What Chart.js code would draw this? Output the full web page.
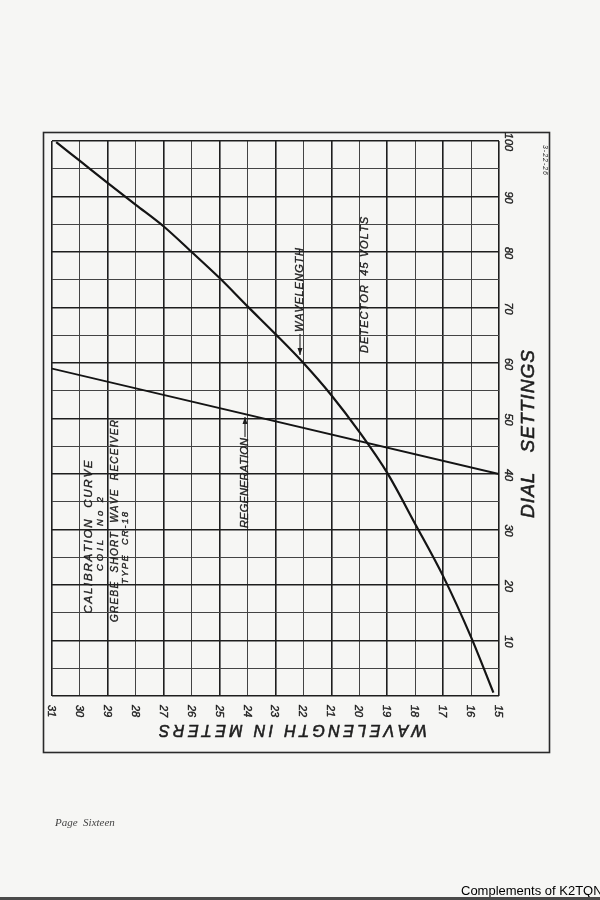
<!DOCTYPE html>
<html>
<head>
<meta charset="utf-8">
<script src="https://cdn.jsdelivr.net/npm/chart.js@4.4.1/dist/chart.umd.min.js"></script>
<style>
  html, body { margin: 0; padding: 0; background: #f6f6f4; }
  #wrap { width: 600px; height: 900px; position: relative; }
</style>
</head>
<body>
<div id="wrap"><canvas id="c"></canvas></div>
<script>
// ---- data ----
const wavelengthMeters = [30.85, 30, 29, 28, 27, 26, 25, 24, 23, 22, 21, 20, 19, 18, 17, 16, 15.2];
const wavelengthDial   = [99.8, 96.4, 92.4, 88.5, 84.6, 80.0, 75.3, 70.2, 65.2, 60.0, 54.2, 47.6, 40.2, 31.0, 21.6, 10.6, 0.6];
const regenerationMeters = [31, 15];
const regenerationDial   = [59, 40];
const xTickLabels = [31, 30, 29, 28, 27, 26, 25, 24, 23, 22, 21, 20, 19, 18, 17, 16, 15];
const yTickLabels = [10, 20, 30, 40, 50, 60, 70, 80, 90, 100];

const INK = '#1e1e1e';
const FAM = '"Liberation Sans", "DejaVu Sans", sans-serif';

function spacedText(ctx, text, x, y, angle, font, targetLen, stroke) {
  ctx.save();
  ctx.translate(x, y);
  ctx.rotate(angle);
  ctx.font = font;
  ctx.textAlign = 'left';
  ctx.textBaseline = 'middle';
  ctx.fillStyle = INK;
  ctx.strokeStyle = INK;
  ctx.lineWidth = stroke || 0;
  const chars = [...text];
  const widths = chars.map(c => ctx.measureText(c).width);
  const total = widths.reduce((a, b) => a + b, 0);
  const gap = (targetLen && chars.length > 1) ? (targetLen - total) / (chars.length - 1) : 0;
  const full = total + gap * (chars.length - 1);
  let cx = -full / 2;
  chars.forEach((c, i) => {
    ctx.fillText(c, cx, 0);
    if (stroke) ctx.strokeText(c, cx, 0);
    cx += widths[i] + gap;
  });
  ctx.restore();
}

function arrow(ctx, x, y0, y1) {
  ctx.save();
  ctx.strokeStyle = INK;
  ctx.fillStyle = INK;
  ctx.lineWidth = 1.1;
  ctx.beginPath();
  ctx.moveTo(x, y0);
  ctx.lineTo(x, y1);
  ctx.stroke();
  const d = y1 > y0 ? 1 : -1;
  ctx.beginPath();
  ctx.moveTo(x, y1);
  ctx.lineTo(x - 2.5, y1 - d * 7);
  ctx.lineTo(x + 2.5, y1 - d * 7);
  ctx.closePath();
  ctx.fill();
  ctx.restore();
}

const decor = {
  id: 'decor',
  beforeDraw(chart) {
    const ctx = chart.ctx;
    ctx.save();
    ctx.fillStyle = '#f6f6f4';
    ctx.fillRect(0, 0, chart.width, chart.height);
    ctx.restore();
  },
  afterDraw(chart) {
    const ctx = chart.ctx;
    const xs = chart.scales.x, ys = chart.scales.y;
    ctx.save();
    ctx.strokeStyle = '#2a2a2a';
    ctx.lineWidth = 1.6;
    ctx.strokeRect(43.5, 132.5, 506, 620);
    xTickLabels.forEach(v => {
      spacedText(ctx, String(v), xs.getPixelForValue(v) - 1, 711, Math.PI / 2,
        'italic 11px ' + FAM, 0, 0.4);
    });
    yTickLabels.forEach(v => {
      spacedText(ctx, String(v), 508, ys.getPixelForValue(v) + 1, Math.PI / 2,
        'italic 11px ' + FAM, 0, 0.4);
    });
    spacedText(ctx, 'WAVELENGTH IN METERS', 293, 729, Math.PI,
      'italic 16px ' + FAM, 268, 0.6);
    spacedText(ctx, 'DIAL   SETTINGS', 529, 434, -Math.PI / 2,
      'italic 19px ' + FAM, 168, 0.6);
    spacedText(ctx, '3-22-26', 545, 160, Math.PI / 2, 'italic 7px ' + FAM, 30, 0);
    spacedText(ctx, 'CALIBRATION  CURVE', 89, 537, -Math.PI / 2, 'italic 11.5px ' + FAM, 153, 0.4);
    spacedText(ctx, 'COIL  No 2', 100.5, 534, -Math.PI / 2, 'italic 9.5px ' + FAM, 74, 0.35);
    spacedText(ctx, 'GREBE  SHORT  WAVE  RECEIVER', 115.5, 521, -Math.PI / 2, 'italic 10px ' + FAM, 202, 0.35);
    spacedText(ctx, 'TYPE  CR-18', 125.5, 548, -Math.PI / 2, 'italic 9px ' + FAM, 72, 0.35);
    spacedText(ctx, 'REGENERATION', 245, 483, -Math.PI / 2, 'italic 11px ' + FAM, 90, 0.35);
    arrow(ctx, 245, 437, 417);
    spacedText(ctx, 'WAVELENGTH', 300, 290, -Math.PI / 2, 'italic 11px ' + FAM, 84, 0.35);
    arrow(ctx, 300, 334, 355);
    spacedText(ctx, 'DETECTOR  45 VOLTS', 365, 285, -Math.PI / 2, 'italic 11px ' + FAM, 136, 0.35);
    ctx.font = 'italic 11px "Liberation Serif", serif';
    ctx.fillStyle = '#444';
    ctx.textAlign = 'left';
    ctx.textBaseline = 'alphabetic';
    ctx.fillText('Page  Sixteen', 55, 826);
    ctx.font = '13px "Liberation Sans", Arial, sans-serif';
    ctx.fillStyle = '#000';
    ctx.fillText('Complements of K2TQN', 461, 895);
    ctx.fillStyle = '#4a4a4a';
    ctx.fillRect(0, 897, 600, 3);
    ctx.restore();
  }
};

const xThick = v => (Math.round(v) % 2 === 1 || v === 15 || v === 31);
const yThick = v => (Math.round(v) % 10 === 0);

new Chart(document.getElementById('c'), {
  type: 'line',
  data: {
    datasets: [
      {
        label: 'Wavelength',
        data: wavelengthMeters.map((m, i) => ({ x: m, y: wavelengthDial[i] })),
        borderColor: '#141414',
        borderWidth: 2.2,
        pointRadius: 0,
        cubicInterpolationMode: 'monotone',
        fill: false
      },
      {
        label: 'Regeneration',
        data: regenerationMeters.map((m, i) => ({ x: m, y: regenerationDial[i] })),
        borderColor: '#141414',
        borderWidth: 1.8,
        pointRadius: 0,
        tension: 0,
        fill: false
      }
    ]
  },
  options: {
    responsive: true,
    maintainAspectRatio: false,
    animation: false,
    devicePixelRatio: 1,
    layout: { padding: { left: 52, top: 141, right: 101, bottom: 204 } },
    plugins: { legend: { display: false }, tooltip: { enabled: false } },
    scales: {
      x: {
        type: 'linear', reverse: true, min: 15, max: 31,
        ticks: { display: false, stepSize: 1 },
        grid: {
          drawTicks: false,
          color: c => xThick(c.tick.value) ? '#1e1e1e' : '#444',
          lineWidth: c => xThick(c.tick.value) ? 1.6 : 1
        },
        border: { display: false }
      },
      y: {
        type: 'linear', min: 0, max: 100,
        ticks: { display: false, stepSize: 5 },
        grid: {
          drawTicks: false,
          color: c => yThick(c.tick.value) ? '#1e1e1e' : '#444',
          lineWidth: c => yThick(c.tick.value) ? 1.6 : 1
        },
        border: { display: false }
      }
    }
  },
  plugins: [decor]
});
</script>
</body>
</html>
